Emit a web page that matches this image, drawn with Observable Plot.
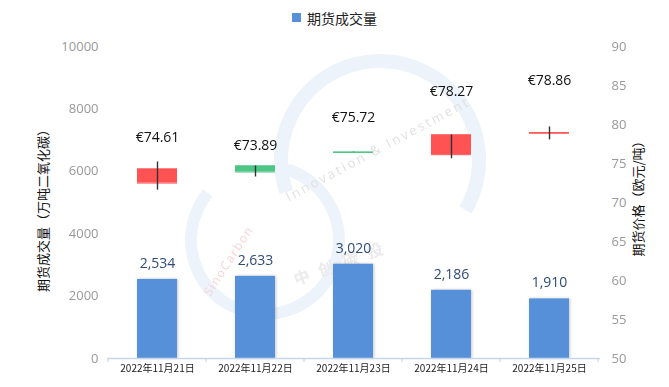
<!DOCTYPE html>
<html><head><meta charset="utf-8">
<script src="https://cdn.jsdelivr.net/npm/d3@7"></script>
<script src="https://cdn.jsdelivr.net/npm/@observablehq/plot@0.6"></script>
<style>
body{margin:0;background:#fff;font-family:"Open Sans","Noto Sans CJK SC",sans-serif;}
#legend{height:35px;display:flex;align-items:center;justify-content:center;font-family:"Noto Sans CJK SC",sans-serif;font-size:14px;color:#222;}
#legend .sw{width:9px;height:9px;background:#5590d8;margin-right:6px;}
svg{overflow:visible}
</style></head><body>
<div id="legend"><span class="sw"></span><span>期货成交量</span></div>
<div id="chart"></div>
<script>
const dates = ["2022年11月21日","2022年11月22日","2022年11月23日","2022年11月24日","2022年11月25日"];
const volume = [2534, 2633, 3020, 2186, 1910];
const priceOpen  = [72.49, 74.68, 76.46, 76.13, 78.88];
const priceClose = [74.29, 73.91, 76.42, 78.66, 78.96];
const priceHigh  = [75.19, 74.68, 76.46, 78.66, 79.69];
const priceLow   = [71.59, 73.27, 76.42, 75.61, 78.02];
const priceLabel = [74.61, 73.89, 75.72, 78.27, 78.86];
const labelLevel = [78.3, 77.25, 80.85, 84.2, 85.6];
const volumeTicks = [0, 2000, 4000, 6000, 8000, 10000];
const priceTicks = [50, 55, 60, 65, 70, 75, 80, 85, 90];
const leftTitle = "期货成交量（万吨二氧化碳）";
const rightTitle = "期货价格（欧元/吨）";

const pMin = 50, pMax = 90, vMax = 10000;
const toY = p => (p - pMin) * vMax / (pMax - pMin);
const toP = v => pMin + v * (pMax - pMin) / vMax;
const idx = d3.range(dates.length);
const up = i => priceClose[i] >= priceOpen[i];
const candleColor = i => up(i) ? "#ff5252" : "#4cc585";
const cjk = '"Noto Sans CJK SC",sans-serif';

const plot = Plot.plot({
  width: 669, height: 352,
  marginTop: 11, marginBottom: 29, marginLeft: 107, marginRight: 69,
  style: {fontFamily: '"Open Sans","Noto Sans CJK SC",sans-serif', background: "#fff"},
  x: {domain: dates, paddingInner: 0.59, paddingOuter: 0.295},
  y: {domain: [0, vMax]},
  marks: [
    Plot.barY(idx, {x: i => dates[i], y: i => volume[i], fill: "#5590d8", className: "vbar"}),
    Plot.text(idx, {x: i => dates[i], y: i => volume[i], text: i => d3.format(",")(volume[i]), dy: -16, fill: "#2f4b78", fontSize: 14}),
    Plot.barY(idx, {x: i => dates[i], y1: i => toY(priceOpen[i]), y2: i => toY(priceClose[i]), fill: candleColor}),
    Plot.tickY(idx, {x: i => dates[i], y: i => toY(priceOpen[i]), stroke: candleColor, strokeWidth: 1}),
    Plot.tickY(idx, {x: i => dates[i], y: i => toY(priceClose[i]), stroke: candleColor, strokeWidth: 1}),
    Plot.ruleX(idx, {x: i => dates[i], y1: i => toY(priceLow[i]), y2: i => toY(priceHigh[i]), stroke: "#333", strokeWidth: 1.4}),
    Plot.text(idx, {x: i => dates[i], y: i => toY(labelLevel[i]), text: i => "€" + priceLabel[i].toFixed(2), fill: "#111", fontSize: 14}),
    Plot.axisY({anchor: "left", ticks: volumeTicks, tickFormat: d => String(d), tickSize: 0, tickPadding: 9, fontSize: 13, fill: "#999", label: null}),
    Plot.axisY({anchor: "right", ticks: priceTicks.map(toY), tickFormat: v => String(Math.round(toP(v))), tickSize: 0, tickPadding: 11, fontSize: 13, fill: "#999", label: null}),
    Plot.axisX({tickSize: 0, tickPadding: 6, fontSize: 10, fill: "#222", label: null, fontFamily: cjk}),
    Plot.ruleY([0], {stroke: "#c5d7eb", strokeWidth: 1.5}),
    Plot.text([leftTitle], {frameAnchor: "left", textAnchor: "middle", text: d => d, rotate: -90, dx: -64, dy: 5, fontSize: 13, fill: "#111", fontFamily: cjk}),
    Plot.text([rightTitle], {frameAnchor: "right", textAnchor: "middle", text: d => d, rotate: -90, dx: 38, dy: -7, fontSize: 13, fill: "#111", fontFamily: cjk})
  ]
});
document.getElementById("chart").appendChild(plot);

// band boundary tick marks on the x axis (apply() gives the band's left edge)
const sx = plot.scale("x");
const svg = d3.select(plot);
const step = sx.step || ((669 - 107 - 69) / dates.length);
const bw = sx.bandwidth || 0;
const y0 = 352 - 29;
const edges = dates.map(d => sx.apply(d) - (step - bw) / 2);
edges.push(edges[edges.length - 1] + step);
svg.append("g").selectAll("line").data(edges).join("line")
  .attr("x1", d => d).attr("x2", d => d).attr("y1", y0).attr("y2", y0 + 4)
  .attr("stroke", "#c5d7eb").attr("stroke-width", 1.2);

// soft shadow on volume bars
svg.selectAll(".vbar").style("filter", "drop-shadow(1.5px 0px 1.5px rgba(0,0,0,0.22))");

// faint watermark behind marks
const wm = svg.insert("g", "g").attr("opacity", 0.75);
const arc = d3.arc();
wm.append("path").attr("transform", "translate(265,205)")
  .attr("d", arc({innerRadius: 68, outerRadius: 80, startAngle: 0.3, endAngle: 5.4})).attr("fill", "#e6eff8");
wm.append("path").attr("transform", "translate(380,125)")
  .attr("d", arc({innerRadius: 92, outerRadius: 106, startAngle: -1.9, endAngle: 2.1})).attr("fill", "#e6eff8");
wm.append("text").attr("transform", "translate(380,118) rotate(-28)").attr("text-anchor", "middle")
  .attr("font-size", 13).attr("letter-spacing", 2.5).attr("fill", "#d6d6d6").text("Innovation & Investment");
wm.append("text").attr("transform", "translate(232,228) rotate(-57)").attr("text-anchor", "middle")
  .attr("font-size", 12).attr("letter-spacing", 1.5).attr("fill", "#f4c4ca").text("SinoCarbon");
wm.append("text").attr("transform", "translate(345,233) rotate(-20)").attr("text-anchor", "middle")
  .attr("font-size", 16).attr("font-weight", "bold").attr("letter-spacing", 10).attr("fill", "#e4e4e4")
  .attr("font-family", cjk).text("中创碳投");
</script>
</body></html>
